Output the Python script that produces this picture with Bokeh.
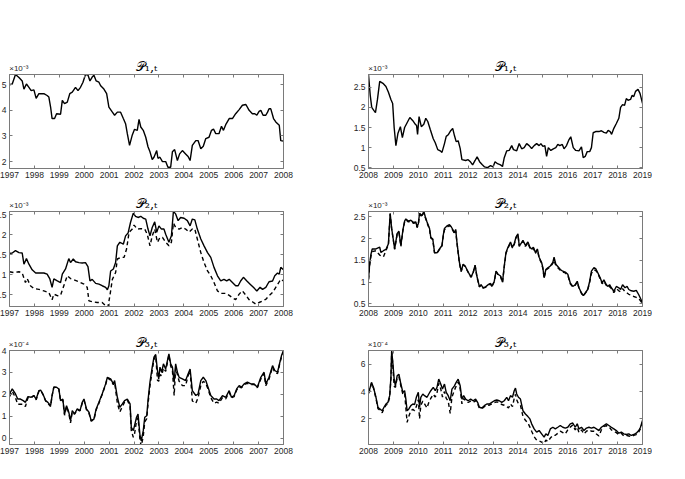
from bokeh.plotting import figure
from bokeh.layouts import gridplot
from bokeh.models import FixedTicker, LinearAxis, Range1d
from bokeh.embed import file_html
from bokeh.resources import INLINE

# ---------------- data (values in units of the axis multiplier) ----------------
# Left column: 1997-2008
P1L_x = [1997.00,1997.11,1997.24,1997.38,1997.51,1997.58,1997.68,1997.78,1997.87,1997.98,
         1998.07,1998.18,1998.38,1998.51,1998.58,1998.65,1998.71,1998.81,1998.89,1999.05,
         1999.12,1999.21,1999.32,1999.42,1999.52,1999.65,1999.75,1999.85,1999.95,2000.05,
         2000.15,2000.23,2000.32,2000.39,2000.48,2000.59,2000.66,2000.79,2000.90,2000.99,
         2001.13,2001.22,2001.33,2001.46,2001.57,2001.66,2001.73,2001.82,2001.93,2002.02,
         2002.13,2002.20,2002.27,2002.37,2002.47,2002.56,2002.64,2002.73,2002.80,2002.91,
         2002.96,2003.04,2003.14,2003.27,2003.36,2003.47,2003.54,2003.63,2003.74,2003.83,
         2003.94,2004.07,2004.17,2004.25,2004.34,2004.48,2004.57,2004.68,2004.78,2004.88,
         2005.01,2005.11,2005.19,2005.28,2005.41,2005.51,2005.59,2005.68,2005.82,2005.95,
         2006.08,2006.22,2006.35,2006.49,2006.62,2006.75,2006.85,2006.93,2007.02,2007.09,
         2007.18,2007.29,2007.36,2007.42,2007.49,2007.60,2007.69,2007.83,2007.89,2008.00]
P1L_y = [5.00,5.03,5.40,5.28,5.15,4.83,5.03,4.90,4.77,4.80,
         4.47,4.65,4.65,4.58,4.52,4.13,3.68,3.68,3.87,3.85,
         4.39,4.26,4.32,4.65,4.71,4.90,4.77,4.90,5.10,5.40,
         5.38,5.15,5.30,5.37,5.15,5.10,4.96,4.83,4.65,4.13,
         3.93,3.81,3.93,3.93,3.68,3.48,3.09,2.63,3.04,3.26,
         3.22,3.65,3.35,3.22,2.95,2.58,2.38,2.08,2.17,2.43,
         2.13,2.17,2.00,2.00,1.78,1.78,2.38,2.47,2.04,2.30,
         2.43,2.30,2.20,2.04,2.63,2.82,2.82,2.50,2.60,2.90,
         2.95,3.22,3.27,3.09,3.09,3.38,3.22,3.44,3.68,3.68,
         3.87,4.03,4.20,4.23,4.00,3.87,3.87,3.81,3.96,4.00,
         3.81,3.81,3.93,4.06,4.06,3.68,3.55,3.42,2.82,2.80]

P2L_x = [1997.00,1997.11,1997.24,1997.38,1997.51,1997.58,1997.68,1997.78,1997.91,1998.05,
         1998.18,1998.38,1998.51,1998.62,1998.71,1998.78,1998.92,1999.05,1999.12,1999.25,
         1999.38,1999.45,1999.56,1999.65,1999.79,1999.92,2000.05,2000.15,2000.23,2000.32,
         2000.46,2000.59,2000.72,2000.86,2000.93,2000.99,2001.06,2001.17,2001.26,2001.33,
         2001.43,2001.57,2001.66,2001.76,2001.86,2001.97,2002.06,2002.16,2002.27,2002.37,
         2002.47,2002.56,2002.64,2002.73,2002.83,2002.91,2003.00,2003.10,2003.20,2003.27,
         2003.40,2003.50,2003.58,2003.67,2003.77,2003.87,2004.01,2004.14,2004.25,2004.34,
         2004.44,2004.54,2004.68,2004.81,2004.95,2005.08,2005.21,2005.35,2005.48,2005.61,
         2005.72,2005.82,2005.95,2006.08,2006.18,2006.28,2006.39,2006.53,2006.66,2006.79,
         2006.93,2007.06,2007.16,2007.29,2007.42,2007.56,2007.65,2007.76,2007.83,2007.89,
         2008.00]
P2L_y = [1.53,1.54,1.60,1.55,1.54,1.26,1.40,1.26,1.12,1.04,
         1.04,1.04,1.01,0.89,0.68,0.89,0.84,0.80,1.01,1.14,
         1.40,1.30,1.39,1.32,1.30,1.29,1.30,1.20,0.84,0.88,
         0.78,0.76,0.72,0.68,0.62,0.72,1.09,1.14,1.30,1.72,
         1.81,1.76,1.97,2.04,2.31,2.54,2.46,2.43,2.46,2.41,
         2.39,2.14,1.97,2.18,2.32,2.06,2.22,2.14,2.14,2.01,
         1.81,1.97,2.58,2.52,2.35,2.43,2.41,2.35,2.22,2.39,
         2.37,2.14,1.89,1.72,1.55,1.43,1.18,0.97,0.84,0.88,
         0.84,0.88,0.80,0.72,0.72,0.84,0.93,0.84,0.76,0.68,
         0.59,0.68,0.63,0.68,0.82,0.84,0.97,1.04,1.01,1.18,
         1.12]
P2L_dx = [1997.00,1997.17,1997.38,1997.51,1997.64,1997.71,1997.84,1997.98,1998.18,1998.38,
          1998.58,1998.71,1998.78,1998.92,1999.05,1999.18,1999.32,1999.45,1999.59,1999.79,
          1999.99,2000.12,2000.19,2000.32,2000.52,2000.72,2000.86,2000.95,2001.03,2001.13,
          2001.26,2001.33,2001.46,2001.60,2001.70,2001.80,2001.93,2002.00,2002.13,2002.27,
          2002.43,2002.53,2002.64,2002.73,2002.83,2002.94,2003.04,2003.14,2003.27,2003.40,
          2003.50,2003.58,2003.67,2003.81,2003.94,2004.07,2004.21,2004.34,2004.44,2004.54,
          2004.68,2004.81,2004.95,2005.08,2005.21,2005.35,2005.48,2005.68,2005.82,2005.95,
          2006.08,2006.22,2006.35,2006.49,2006.62,2006.75,2006.89,2007.02,2007.16,2007.29,
          2007.42,2007.56,2007.69,2007.83,2007.89,2008.00]
P2L_dy = [1.07,1.05,1.07,1.04,0.80,0.90,0.72,0.65,0.63,0.59,
          0.55,0.37,0.51,0.47,0.48,0.72,0.97,0.90,0.87,0.82,
          0.76,0.68,0.34,0.32,0.30,0.30,0.22,0.18,0.47,0.88,
          1.05,1.39,1.43,1.43,1.64,2.06,2.14,2.24,2.14,2.15,
          2.14,2.01,1.72,1.97,2.14,1.81,1.93,1.93,1.81,1.72,
          1.81,2.29,2.18,2.14,2.18,2.14,2.06,2.14,2.14,1.89,
          1.55,1.30,1.09,0.97,0.80,0.59,0.53,0.53,0.48,0.42,
          0.37,0.51,0.59,0.48,0.37,0.32,0.26,0.30,0.34,0.38,
          0.47,0.55,0.68,0.82,0.88,0.84]

P3L_x = [1997.00,1997.11,1997.24,1997.33,1997.44,1997.55,1997.64,1997.74,1997.87,1997.98,
         1998.07,1998.18,1998.25,1998.34,1998.45,1998.54,1998.65,1998.71,1998.78,1998.89,
         1998.98,1999.05,1999.14,1999.21,1999.29,1999.38,1999.45,1999.52,1999.61,1999.72,
         1999.83,1999.92,1999.99,2000.09,2000.19,2000.28,2000.39,2000.48,2000.59,2000.72,
         2000.86,2000.93,2001.06,2001.17,2001.22,2001.33,2001.43,2001.53,2001.62,2001.73,
         2001.84,2001.89,2001.97,2002.02,2002.10,2002.16,2002.24,2002.29,2002.37,2002.43,
         2002.51,2002.56,2002.64,2002.73,2002.80,2002.87,2002.94,2002.99,2003.04,2003.11,
         2003.18,2003.27,2003.34,2003.40,2003.47,2003.54,2003.61,2003.67,2003.74,2003.81,
         2003.94,2004.07,2004.17,2004.25,2004.34,2004.48,2004.57,2004.68,2004.78,2004.88,
         2004.97,2005.08,2005.21,2005.32,2005.41,2005.55,2005.68,2005.82,2005.91,2006.02,
         2006.12,2006.22,2006.31,2006.42,2006.55,2006.69,2006.82,2006.95,2007.09,2007.22,
         2007.29,2007.42,2007.56,2007.65,2007.76,2007.87,2007.92,2008.00]
P3L_y = [2.02,2.25,2.02,1.79,1.79,1.72,1.64,1.90,1.87,1.95,
         1.79,2.17,2.20,2.02,1.72,1.64,1.49,1.95,2.33,2.33,
         2.25,1.72,1.79,1.11,1.49,1.19,0.81,1.26,1.11,1.34,
         1.26,1.64,1.79,1.34,1.19,0.81,0.88,1.34,1.64,2.02,
         2.48,2.78,2.71,2.48,2.63,1.87,1.41,1.57,1.72,1.79,
         1.57,0.50,0.35,0.58,0.96,1.11,0.12,-0.11,0.35,0.96,
         1.03,1.72,2.56,3.24,3.70,3.82,3.09,2.71,3.24,3.01,
         3.39,3.16,3.54,3.85,3.39,3.24,2.56,3.39,3.01,2.78,
         2.71,2.63,2.93,3.16,2.17,1.95,2.02,2.63,2.78,2.63,
         2.33,1.95,1.79,1.79,1.72,1.95,1.87,2.17,1.87,1.95,
         2.25,2.40,2.33,2.48,2.56,2.48,2.48,2.33,2.78,3.01,
         2.48,2.78,3.31,3.09,3.01,3.54,3.77,4.00]
P3L_dy = [1.90,2.15,1.85,1.55,1.55,1.55,1.45,1.85,1.85,1.95,
          1.75,2.15,2.20,2.00,1.70,1.60,1.45,1.95,2.33,2.33,
          2.25,1.70,1.75,1.05,1.45,1.15,0.70,1.20,1.10,1.30,
          1.25,1.60,1.75,1.30,1.15,0.78,0.85,1.30,1.60,2.00,
          2.45,2.75,2.65,2.45,2.55,1.60,1.20,1.45,1.65,1.75,
          1.45,0.35,0.05,0.20,0.80,0.95,-0.10,-0.35,0.10,0.75,
          0.90,1.55,2.40,3.10,3.60,3.75,2.65,2.60,2.90,2.85,
          3.20,3.05,3.45,3.80,3.30,3.10,1.95,3.20,2.90,2.60,
          2.40,2.40,2.85,3.10,1.70,1.60,1.85,2.40,2.60,2.50,
          2.25,1.85,1.60,1.65,1.60,1.85,1.80,2.10,1.85,1.90,
          2.20,2.35,2.30,2.45,2.50,2.45,2.45,2.30,2.70,2.95,
          2.40,2.70,3.25,3.00,2.95,3.50,3.70,3.95]

# Right column: 2008-2019
P1R_x = [2008.00,2008.07,2008.13,2008.22,2008.28,2008.36,2008.45,2008.58,2008.70,2008.80,
         2008.90,2008.97,2009.03,2009.10,2009.18,2009.28,2009.36,2009.45,2009.55,2009.66,
         2009.78,2009.88,2009.93,2009.97,2010.03,2010.12,2010.22,2010.30,2010.38,2010.48,
         2010.60,2010.68,2010.78,2010.88,2010.95,2011.05,2011.12,2011.20,2011.30,2011.38,
         2011.45,2011.52,2011.60,2011.68,2011.75,2011.90,2012.00,2012.10,2012.18,2012.28,
         2012.36,2012.46,2012.56,2012.66,2012.78,2012.90,2013.00,2013.08,2013.18,2013.30,
         2013.38,2013.45,2013.55,2013.65,2013.75,2013.82,2013.95,2014.05,2014.15,2014.25,
         2014.35,2014.45,2014.55,2014.65,2014.75,2014.85,2014.92,2015.00,2015.08,2015.15,
         2015.22,2015.32,2015.42,2015.52,2015.60,2015.68,2015.78,2015.85,2015.95,2016.05,
         2016.12,2016.22,2016.32,2016.45,2016.55,2016.62,2016.70,2016.78,2016.88,2016.95,
         2017.02,2017.12,2017.25,2017.35,2017.45,2017.55,2017.62,2017.70,2017.76,2017.85,
         2017.95,2018.05,2018.12,2018.20,2018.28,2018.35,2018.42,2018.52,2018.58,2018.65,
         2018.72,2018.82,2018.90,2019.00]
P1R_y = [2.82,2.30,2.00,1.92,1.87,2.20,2.65,2.60,2.52,2.38,
         2.20,2.10,1.50,1.05,1.35,1.52,1.25,1.50,1.62,1.75,
         1.67,1.58,1.55,1.33,1.77,1.52,1.58,1.73,1.65,1.45,
         1.22,1.12,0.95,0.92,0.88,1.10,1.28,1.32,1.42,1.48,
         1.30,1.15,1.17,0.98,0.70,0.68,0.70,0.64,0.57,0.68,
         0.77,0.65,0.58,0.52,0.50,0.55,0.52,0.65,0.60,0.57,
         0.53,0.75,0.92,0.93,1.05,0.95,0.92,1.10,0.97,1.00,
         1.10,1.05,0.98,1.05,1.10,1.05,1.10,1.03,1.05,0.78,
         1.00,0.93,0.97,1.00,1.08,1.05,1.08,0.97,1.05,1.20,
         1.27,1.00,0.93,0.92,1.02,0.75,0.78,0.90,0.90,1.00,
         1.37,1.40,1.40,1.42,1.38,1.36,1.43,1.40,1.33,1.48,
         1.60,1.73,2.00,2.07,2.05,2.22,2.18,2.20,2.30,2.27,
         2.40,2.45,2.35,2.10]

P2R_x = [2008.00,2008.05,2008.10,2008.15,2008.30,2008.45,2008.50,2008.60,2008.70,2008.80,
         2008.87,2008.93,2009.00,2009.05,2009.15,2009.22,2009.30,2009.38,2009.45,2009.50,
         2009.60,2009.70,2009.80,2009.90,2009.95,2010.00,2010.05,2010.15,2010.22,2010.28,
         2010.35,2010.45,2010.50,2010.58,2010.65,2010.75,2010.85,2010.95,2011.00,2011.05,
         2011.15,2011.25,2011.32,2011.40,2011.45,2011.50,2011.55,2011.65,2011.72,2011.80,
         2011.88,2011.95,2012.05,2012.12,2012.20,2012.28,2012.35,2012.45,2012.52,2012.60,
         2012.70,2012.80,2012.90,2012.95,2013.05,2013.12,2013.20,2013.30,2013.38,2013.45,
         2013.52,2013.60,2013.70,2013.78,2013.85,2013.92,2014.00,2014.05,2014.12,2014.20,
         2014.30,2014.40,2014.48,2014.55,2014.62,2014.70,2014.78,2014.85,2014.95,2015.00,
         2015.05,2015.12,2015.20,2015.30,2015.40,2015.45,2015.52,2015.60,2015.70,2015.80,
         2015.90,2016.00,2016.10,2016.20,2016.30,2016.38,2016.45,2016.55,2016.62,2016.70,
         2016.80,2016.88,2016.95,2017.05,2017.12,2017.20,2017.30,2017.38,2017.45,2017.52,
         2017.60,2017.68,2017.75,2017.85,2017.95,2018.05,2018.12,2018.20,2018.30,2018.38,
         2018.45,2018.55,2018.65,2018.75,2018.85,2018.95,2019.00]
P2R_y = [1.06,1.45,1.64,1.76,1.76,1.80,1.68,1.72,1.75,1.88,
         2.58,2.23,1.96,1.76,2.11,2.17,1.84,2.19,2.40,2.45,
         2.40,2.42,2.37,2.38,2.27,2.34,2.58,2.52,2.62,2.50,
         2.38,2.23,2.03,1.99,1.68,1.67,1.76,1.84,2.07,2.23,
         2.29,2.32,2.27,2.19,2.13,2.21,1.92,1.45,1.25,1.41,
         1.37,1.29,1.18,1.12,1.22,1.39,1.14,0.90,0.94,0.87,
         0.89,0.94,0.97,0.90,1.02,1.25,1.18,1.14,1.00,1.37,
         1.68,1.80,1.92,1.80,1.88,2.03,2.11,1.84,1.88,1.96,
         1.84,1.92,1.80,1.76,1.80,1.68,1.76,1.57,1.45,1.33,
         1.10,1.29,1.33,1.37,1.45,1.57,1.41,1.36,1.29,1.25,
         1.23,1.18,0.98,0.90,0.94,1.02,0.87,0.75,0.69,0.75,
         0.83,1.02,1.25,1.33,1.31,1.22,1.10,0.98,1.05,0.97,
         0.90,0.94,0.87,0.79,0.90,0.87,0.83,0.94,0.87,0.90,
         0.83,0.80,0.79,0.81,0.71,0.59,0.50]
P2R_dy = [1.06,1.40,1.60,1.70,1.72,1.62,1.60,1.58,1.72,1.86,
          2.56,2.22,1.95,1.75,2.10,2.15,1.82,2.18,2.38,2.43,
          2.38,2.40,2.35,2.36,2.25,2.32,2.55,2.50,2.60,2.48,
          2.36,2.21,2.01,1.97,1.67,1.66,1.75,1.83,2.05,2.20,
          2.26,2.30,2.25,2.17,2.11,2.18,1.90,1.43,1.24,1.40,
          1.36,1.28,1.17,1.11,1.21,1.38,1.13,0.89,0.93,0.86,
          0.88,0.93,0.96,0.89,1.01,1.24,1.17,1.13,0.99,1.35,
          1.66,1.78,1.90,1.78,1.86,2.01,2.09,1.82,1.86,1.94,
          1.82,1.90,1.78,1.74,1.78,1.66,1.74,1.55,1.43,1.31,
          1.09,1.27,1.31,1.35,1.43,1.50,1.38,1.33,1.27,1.23,
          1.21,1.16,0.96,0.89,0.93,1.00,0.86,0.74,0.68,0.74,
          0.82,1.00,1.20,1.28,1.27,1.20,1.08,0.96,1.02,0.95,
          0.88,0.90,0.85,0.76,0.85,0.80,0.78,0.85,0.78,0.75,
          0.72,0.70,0.67,0.65,0.62,0.55,0.47]

P3R_x = [2008.00,2008.05,2008.12,2008.20,2008.30,2008.38,2008.45,2008.55,2008.62,2008.70,
         2008.78,2008.85,2008.90,2008.93,2008.97,2009.03,2009.08,2009.15,2009.22,2009.30,
         2009.38,2009.45,2009.50,2009.55,2009.62,2009.70,2009.78,2009.85,2009.92,2010.00,
         2010.05,2010.10,2010.18,2010.25,2010.35,2010.42,2010.50,2010.60,2010.68,2010.75,
         2010.82,2010.90,2010.97,2011.05,2011.12,2011.20,2011.28,2011.35,2011.45,2011.52,
         2011.60,2011.68,2011.75,2011.82,2011.90,2012.00,2012.10,2012.20,2012.30,2012.38,
         2012.45,2012.55,2012.65,2012.75,2012.85,2012.95,2013.05,2013.15,2013.25,2013.35,
         2013.45,2013.55,2013.62,2013.70,2013.78,2013.85,2013.90,2013.95,2014.02,2014.10,
         2014.20,2014.30,2014.40,2014.48,2014.55,2014.65,2014.75,2014.85,2014.95,2015.05,
         2015.12,2015.20,2015.30,2015.40,2015.50,2015.60,2015.70,2015.80,2015.90,2016.00,
         2016.10,2016.20,2016.30,2016.38,2016.45,2016.55,2016.65,2016.75,2016.85,2016.95,
         2017.05,2017.15,2017.25,2017.35,2017.45,2017.55,2017.65,2017.75,2017.85,2017.95,
         2018.05,2018.15,2018.25,2018.35,2018.45,2018.55,2018.65,2018.75,2018.85,2018.92,
         2019.00]
P3R_y = [3.94,4.18,4.67,4.30,3.58,2.85,2.73,2.60,2.85,3.09,
         3.21,3.70,5.03,6.97,6.24,4.91,4.42,5.15,5.27,4.55,
         3.94,4.06,3.45,2.60,2.73,2.97,3.09,3.04,3.58,3.94,
         2.85,3.58,3.82,3.70,3.58,3.82,4.06,4.30,4.06,4.30,
         4.91,4.55,4.18,4.55,3.94,3.70,3.33,4.18,4.42,4.67,
         4.91,4.42,3.45,3.70,3.45,3.33,3.45,3.33,3.45,3.21,
         2.85,2.80,2.97,3.09,3.09,3.21,3.33,3.38,3.33,3.21,
         3.33,3.58,3.33,3.70,3.58,4.06,4.25,3.82,3.58,3.45,
         2.60,2.36,2.17,2.00,1.64,1.27,1.03,1.15,0.91,0.67,
         0.91,0.79,1.27,1.39,1.27,1.39,1.52,1.39,1.33,1.39,
         1.64,1.70,1.39,1.64,1.27,1.39,1.15,1.33,1.39,1.33,
         1.39,1.27,1.15,1.39,1.52,1.64,1.52,1.39,1.27,1.15,
         0.96,1.03,0.91,0.86,0.91,0.79,0.86,0.96,1.15,1.39,
         1.88]
P3R_dy = [3.85,4.10,4.60,4.25,3.50,2.75,2.65,2.45,2.75,3.00,
          3.10,3.60,4.90,6.90,6.10,4.40,4.30,5.00,5.10,4.40,
          3.80,3.90,2.80,1.75,2.20,2.60,2.70,2.60,2.90,3.40,
          2.00,3.00,3.30,3.10,2.80,3.20,3.50,3.80,3.60,3.90,
          4.60,4.20,3.60,4.00,3.50,3.30,2.40,3.60,4.10,4.40,
          4.70,4.20,3.10,3.50,3.30,3.20,3.30,3.20,3.35,3.10,
          2.80,2.75,2.90,3.00,3.00,3.10,3.20,3.25,3.20,3.05,
          3.00,2.90,2.80,3.10,2.90,3.50,3.80,3.40,3.10,3.00,
          2.20,1.90,1.70,1.40,1.10,0.70,0.45,0.40,0.30,0.20,
          0.45,0.35,0.60,0.80,0.80,0.95,1.10,1.00,0.90,1.20,
          1.40,1.55,1.20,1.40,1.00,1.20,0.90,1.10,1.20,1.10,
          1.10,0.90,0.75,1.20,1.45,1.50,1.45,1.20,1.10,1.00,
          0.85,0.95,0.75,0.80,0.75,0.70,0.80,0.85,1.05,1.30,
          1.75]

# tick values / labels
YT_P1L = [2, 3, 4, 5]
YT_P2L = [0.5, 1, 1.5, 2, 2.5]
YT_P3L = [0, 1, 2, 3, 4]
YT_P1R = [0.5, 1, 1.5, 2, 2.5]
YT_P2R = [0.5, 1, 1.5, 2, 2.5]
YT_P3R = [2, 4, 6]
TITLES = ["𝒫₁,ₜ", "𝒫₂,ₜ", "𝒫₃,ₜ"]
EXP3 = "×10⁻³"
EXP4 = "×10⁻⁴"

FONT = "Liberation Sans"
AXC = "#7a7a7a"
TXT = "#262626"


def fmt(v):
    return "%g" % v


def style_axis(ax, ticker, labels=True):
    ax.ticker = ticker
    ax.axis_line_color = AXC
    ax.axis_line_width = 1
    ax.major_tick_line_color = AXC
    ax.major_tick_in = 3
    ax.major_tick_out = 0
    ax.minor_tick_line_color = None
    ax.major_label_text_font = FONT
    if labels:
        ax.major_label_text_color = TXT
        ax.major_label_standoff = 3
        ax.major_label_text_font_size = "8.5px"
    else:
        ax.major_label_text_color = None
        ax.major_label_standoff = 0
        ax.major_label_text_font_size = "1px"


def panel(xr, yr, yticks, exp_txt, title_txt, lines, col, row):
    w = 359 if col == 0 else 324
    br = 45 if col == 0 else 10
    h, bt = [(188, 74), (138, 23), (138, 24)][row]
    p = figure(width=w, height=h, x_range=Range1d(*xr), y_range=Range1d(*yr),
               output_backend="svg", toolbar_location=None,
               min_border_left=40, min_border_right=br,
               min_border_top=bt, min_border_bottom=20)
    p.xgrid.visible = False
    p.ygrid.visible = False
    p.outline_line_color = AXC
    p.background_fill_color = "white"
    p.border_fill_color = "white"

    xt = FixedTicker(ticks=list(range(int(xr[0]), int(xr[1]) + 1)), minor_ticks=[])
    yt = FixedTicker(ticks=yticks, minor_ticks=[])
    style_axis(p.xaxis[0], xt)
    style_axis(p.yaxis[0], yt)
    p.yaxis[0].major_label_overrides = {v: fmt(v) for v in yticks}

    # top tick marks (no labels)
    top = LinearAxis()
    style_axis(top, xt, labels=False)
    p.add_layout(top, "above")

    # multiplier text at the top-left corner + panel title, carried by an
    # unmarked top axis so that both sit on one line above the box
    ex_pos = xr[0] + 0.375
    head = LinearAxis(ticker=FixedTicker(ticks=[ex_pos], minor_ticks=[]))
    head.axis_line_color = None
    head.major_tick_line_color = None
    head.minor_tick_line_color = None
    head.major_label_overrides = {ex_pos: exp_txt}
    head.major_label_text_font = FONT
    head.major_label_text_font_size = "8px"
    head.major_label_text_color = TXT
    head.major_label_standoff = -4
    head.axis_label = title_txt
    head.axis_label_text_font = "DejaVu Serif"
    head.axis_label_text_font_size = "13px"
    head.axis_label_text_font_style = "normal"
    head.axis_label_text_color = "black"
    head.axis_label_standoff = -13
    p.add_layout(head, "above")

    right = LinearAxis()
    style_axis(right, yt, labels=False)
    p.add_layout(right, "right")

    for (x, y, dash) in lines:
        n = min(len(x), len(y))
        p.line(x[:n], y[:n], line_color="black", line_width=1.4,
               line_dash=dash)
    return p


p1 = panel((1997, 2008), (1.73, 5.4), YT_P1L, EXP3, TITLES[0],
           [(P1L_x, P1L_y, "solid")], 0, 0)
p2 = panel((2008, 2019), (0.48, 2.82), YT_P1R, EXP3, TITLES[0],
           [(P1R_x, P1R_y, "solid")], 1, 0)
p3 = panel((1997, 2008), (0.2, 2.58), YT_P2L, EXP3, TITLES[1],
           [(P2L_dx, P2L_dy, "4 3"), (P2L_x, P2L_y, "solid")], 0, 1)
p4 = panel((2008, 2019), (0.44, 2.62), YT_P2R, EXP3, TITLES[1],
           [(P2R_x, P2R_dy, "4 3"), (P2R_x, P2R_y, "solid")], 1, 1)
p5 = panel((1997, 2008), (-0.28, 4.0), YT_P3L, EXP4, TITLES[2],
           [(P3L_x, P3L_dy, "4 3"), (P3L_x, P3L_y, "solid")], 0, 2)
p6 = panel((2008, 2019), (0.13, 7.0), YT_P3R, EXP4, TITLES[2],
           [(P3R_x, P3R_dy, "4 3"), (P3R_x, P3R_y, "solid")], 1, 2)

grid = gridplot([[p1, p2], [p3, p4], [p5, p6]], toolbar_location=None)
grid.styles = {"margin-left": "-31px"}

open("out.html", "w").write(file_html(grid, INLINE))
